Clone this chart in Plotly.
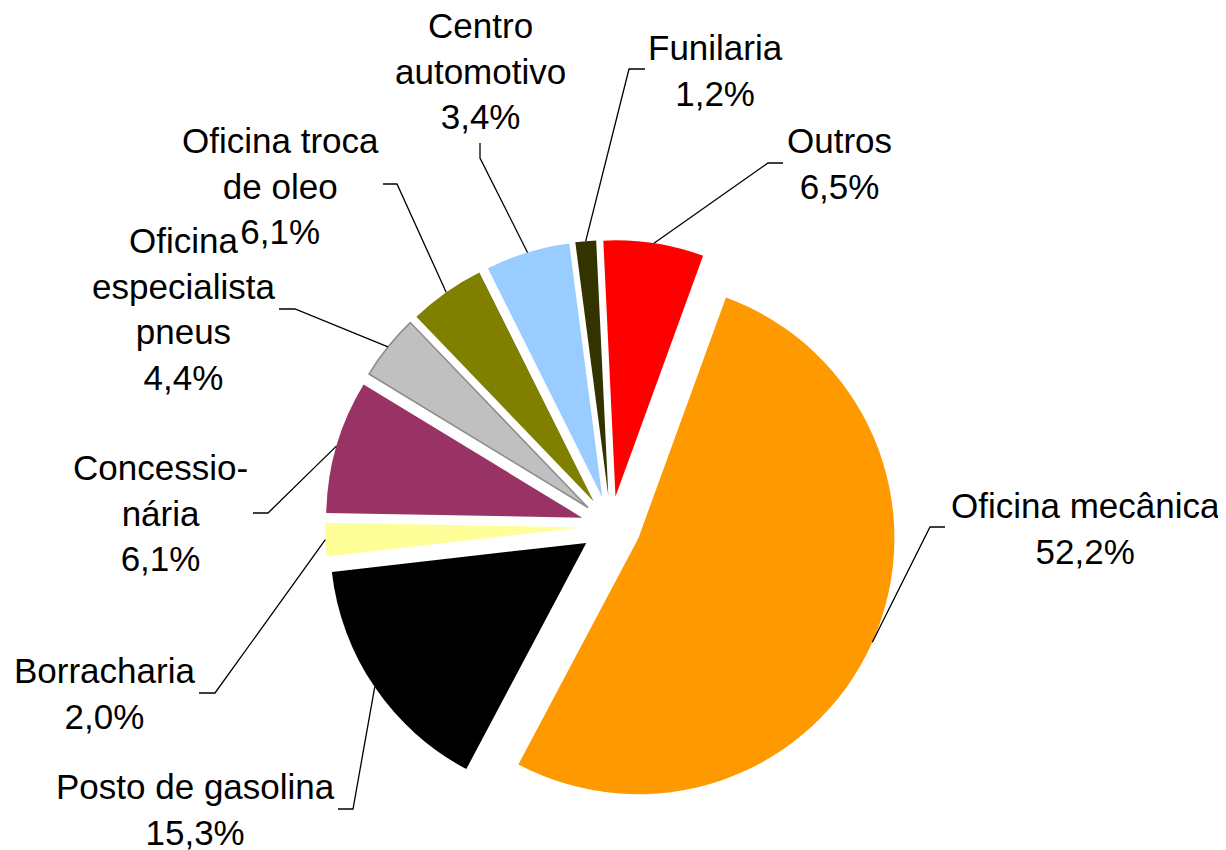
import math
import plotly.graph_objects as go

# ---- data -------------------------------------------------------------
categories = ["Oficina mecânica", "Posto de gasolina", "Borracharia", "Concessionária",
              "Oficina especialista pneus", "Oficina troca de oleo", "Centro automotivo",
              "Funilaria", "Outros"]
label_lines = ["Oficina mecânica", "Posto de gasolina", "Borracharia", "Concessio-<br>nária",
               "Oficina<br>especialista<br>pneus", "Oficina troca<br>de oleo",
               "Centro<br>automotivo", "Funilaria", "Outros"]
label_pct = ["52,2%", "15,3%", "2,0%", "6,1%", "4,4%", "6,1%", "3,4%", "1,2%", "6,5%"]
# share of the circle taken by each drawn slice (%)
slice_share = [52.1, 15.4, 2.1, 8.4, 4.1, 4.8, 5.3, 1.3, 6.3]
colors = ["#FF9900", "#000000", "#FFFF99", "#993366", "#C0C0C0",
          "#808000", "#99CCFF", "#333300", "#FF0000"]

# ---- layout constants ---------------------------------------------------
PAGE_W, PAGE_H = 1226, 850
OFF = 8                                  # default body margin of the html page
W, H = PAGE_W - OFF, PAGE_H - OFF        # figure reaches the page's right/bottom edge
PULL = 0.117
ROTATION = 20
PIE_CENTER = (611, 526)                  # page pixels
PIE_HALF = 286                           # half of the square pie box, pixels
FONT = dict(family="Liberation Sans, Arial, sans-serif", size=35, color="#000000")

# label centre positions (page pixels) and the label-side part of each leader line
label_pos = [(1085, 528), (195, 809), (104, 693), (160, 513), (183, 309),
             (280, 186), (480, 71), (715, 70), (839, 164)]
leader_ends = [((945, 527), (930, 527)), ((338, 809), (353, 809)), ((199, 693), (215, 693)),
               ((253, 513), (268, 513)), ((279, 309), (295, 309)), ((383, 184), (397, 184)),
               ((480, 143), (480, 158)), ((645, 69), (629, 69)), ((783, 163), (768, 163))]


def to_paper(p):
    return (p[0] - OFF) / W, 1 - (p[1] - OFF) / H


c_paper = to_paper(PIE_CENTER)
DOM_X = [c_paper[0] - PIE_HALF / W, c_paper[0] + PIE_HALF / W]
DOM_Y = [c_paper[1] - PIE_HALF / H, c_paper[1] + PIE_HALF / H]

fig = go.Figure(go.Pie(
    labels=categories,
    values=slice_share,
    sort=False,
    direction="clockwise",
    rotation=ROTATION,
    pull=[PULL] * len(slice_share),
    marker=dict(colors=colors,
                line=dict(color=["#8C8C8C" if c == "#C0C0C0" else "rgba(0,0,0,0)" for c in colors],
                          width=[1.5 if c == "#C0C0C0" else 0 for c in colors])),
    textinfo="none",
    hoverinfo="label+percent",
    domain=dict(x=DOM_X, y=DOM_Y),
    showlegend=False,
))

# pie geometry as plotly computes it (page pixels)
r = 2 * PIE_HALF / (2 + 2 * PULL)
cx, cy = PIE_CENTER
total = sum(slice_share)

shapes = []
annotations = []
cum = 0.0
for i, v in enumerate(slice_share):
    mid = math.radians(ROTATION + 360 * (cum + v / 2) / total)
    cum += v
    ax = cx + (1 + PULL) * r * math.sin(mid)
    ay = cy - (1 + PULL) * r * math.cos(mid)
    p0, p1 = leader_ends[i]
    pts = [to_paper(p0), to_paper(p1), to_paper((ax, ay))]
    path = "M {} {} L {} {} L {} {}".format(pts[0][0], pts[0][1], pts[1][0], pts[1][1],
                                           pts[2][0], pts[2][1])
    shapes.append(dict(type="path", xref="paper", yref="paper", path=path,
                       line=dict(color="#000000", width=1.3)))
    lx, ly = to_paper(label_pos[i])
    annotations.append(dict(x=lx, y=ly, xref="paper", yref="paper",
                            text=label_lines[i] + "<br>" + label_pct[i],
                            showarrow=False, xanchor="center", yanchor="middle",
                            align="center", font=FONT))

fig.update_layout(
    width=W, height=H,
    margin=dict(l=0, r=0, t=0, b=0),
    paper_bgcolor="#FFFFFF",
    plot_bgcolor="#FFFFFF",
    shapes=shapes,
    annotations=annotations,
)

fig.write_html("out.html")
